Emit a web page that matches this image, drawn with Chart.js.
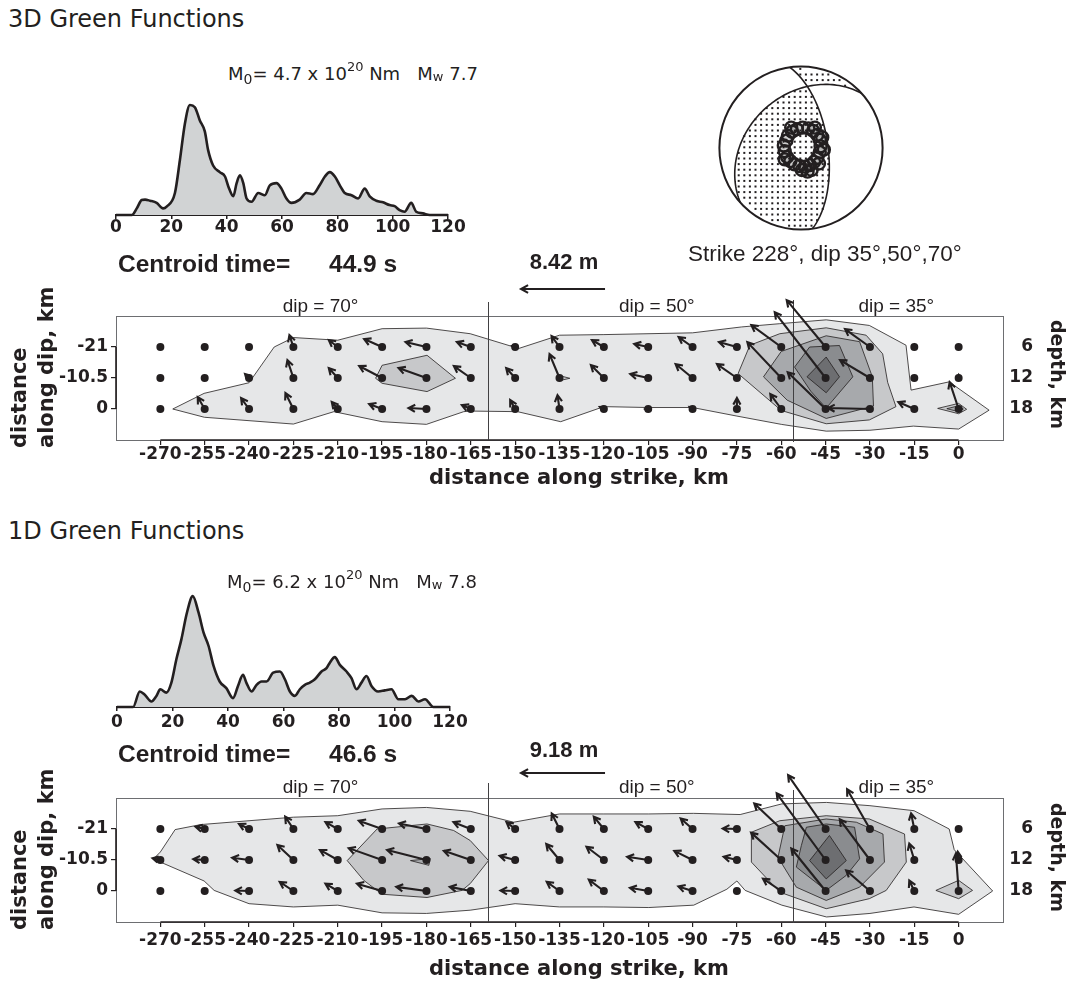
<!DOCTYPE html>
<html>
<head>
<meta charset="utf-8">
<script src="https://cdn.jsdelivr.net/npm/chart.js@4.4.1/dist/chart.umd.min.js"></script>
<style>
  body { margin: 0; background: #fff; width: 1067px; height: 982px; position: relative; overflow: hidden; font-family: 'DejaVu Sans', sans-serif; color: #231f20; }
  canvas { position: absolute; }
  .t { position: absolute; white-space: pre; line-height: 1; }
  .lib { font-family: 'Liberation Sans', Arial, sans-serif; }
  .b { font-weight: bold; }
  .sb { font-size: 14px; position: relative; top: 4px; }
  .sp { font-size: 13px; position: relative; top: -9px; }
  .sw { font-size: 13px; position: relative; top: 1px; }
  .rl { transform-origin: 0 0; transform: rotate(-90deg); }
  .rr { transform-origin: 0 0; transform: rotate(90deg); }
</style>
</head>
<body>
<canvas id="stf3d" width="392" height="161" style="left:86px;top:84px"></canvas>
<canvas id="ball" width="180" height="180" style="left:711px;top:58px"></canvas>
<canvas id="slip3d" width="1011" height="240" style="left:56px;top:250px"></canvas>
<canvas id="stf1d" width="393" height="162" style="left:87px;top:575px"></canvas>
<canvas id="slip1d" width="1011" height="240" style="left:56px;top:732px"></canvas>

<div class="t" style="left:8px;top:6.7px;font-size:24px">3D Green Functions</div>
<div class="t" style="left:228px;top:64.8px;font-size:18px">M<span class="sb">0</span>= 4.7 x 10<span class="sp">20</span> Nm   M<span class="sw">w</span> 7.7</div>
<div class="t lib b" style="left:118px;top:252.3px;font-size:24.5px">Centroid time=</div>
<div class="t lib b" style="left:329px;top:252.3px;font-size:24.5px">44.9 s</div>
<div class="t lib b" style="left:564px;top:251.4px;font-size:22px;transform:translateX(-50%)">8.42 m</div>
<div class="t lib" style="left:688px;top:243px;font-size:22.5px">Strike 228°, dip 35°,50°,70°</div>
<div class="t b rl" style="left:6px;top:448px;font-size:21px;line-height:27px">distance
along dip, km</div>
<div class="t b rr" style="left:1067px;top:320px;font-size:19px">depth, km</div>
<div class="t b" style="left:579px;top:467.2px;font-size:21px;transform:translateX(-50%)">distance along strike, km</div>

<div class="t" style="left:8px;top:518.7px;font-size:24px">1D Green Functions</div>
<div class="t" style="left:227px;top:573.1px;font-size:18px">M<span class="sb">0</span>= 6.2 x 10<span class="sp">20</span> Nm   M<span class="sw">w</span> 7.8</div>
<div class="t lib b" style="left:118px;top:742px;font-size:24.5px">Centroid time=</div>
<div class="t lib b" style="left:329px;top:742px;font-size:24.5px">46.6 s</div>
<div class="t lib b" style="left:564px;top:738.7px;font-size:22px;transform:translateX(-50%)">9.18 m</div>
<div class="t b rl" style="left:6px;top:930px;font-size:21px;line-height:27px">distance
along dip, km</div>
<div class="t b rr" style="left:1067px;top:803px;font-size:19px">depth, km</div>
<div class="t b" style="left:579px;top:958.2px;font-size:21px;transform:translateX(-50%)">distance along strike, km</div>

<script>
// ---- source time functions (normalised moment rate vs time, s) ----
const stfTicks = [0, 20, 40, 60, 80, 100, 120];
const stf3dTime = [0, 5.7, 7.5, 9.3, 10.5, 12.3, 14.7, 17, 18.3, 21.3, 23.1, 24.9, 26.7, 28.5, 30.3, 32.1, 33.3, 35.1, 37.5, 39.4, 40.6, 42.4, 43.6, 44.8, 46, 47.2, 49, 51.4, 53.8, 55.6, 58, 59.8, 61.6, 63.4, 66.4, 68.8, 71.2, 73.6, 75.5, 77.3, 79.1, 80.9, 82.7, 85.1, 87.5, 89.9, 91.7, 94.1, 96.5, 98.9, 100.7, 102.5, 104.3, 106.7, 108.5, 110.9, 113.4, 120];
const stf3dAmp = [0, 0, 0.06, 0.136, 0.14, 0.13, 0.11, 0.06, 0.076, 0.2, 0.5, 0.83, 1.0, 0.98, 0.86, 0.76, 0.59, 0.45, 0.39, 0.35, 0.26, 0.17, 0.29, 0.36, 0.29, 0.15, 0.12, 0.2, 0.18, 0.27, 0.29, 0.24, 0.15, 0.11, 0.14, 0.2, 0.19, 0.27, 0.35, 0.39, 0.35, 0.27, 0.2, 0.18, 0.15, 0.24, 0.17, 0.13, 0.115, 0.09, 0.08, 0.045, 0.03, 0.11, 0.03, 0.015, 0, 0];
const stf1dTime = [0, 5.8, 8.2, 10, 12.4, 14.2, 15.6, 17.8, 19.6, 21.4, 23.2, 25.2, 27.3, 29.4, 31.2, 33, 34.8, 37, 39.4, 41.8, 43.6, 45.4, 46.6, 48.5, 50.3, 52.1, 53.9, 56.3, 58.7, 60.5, 62.3, 64.1, 65.9, 67.7, 69.5, 71.3, 73.7, 75.5, 76.7, 78.5, 80.3, 82.7, 84.5, 86.3, 88.1, 89.9, 91.7, 94.1, 96.5, 98.9, 101.4, 103.8, 106.2, 108.6, 111, 114, 120];
const stf1dAmp = [0, 0, 0.14, 0.11, 0.05, 0.1, 0.16, 0.13, 0.22, 0.43, 0.61, 0.85, 1.0, 0.85, 0.67, 0.55, 0.37, 0.23, 0.17, 0.08, 0.19, 0.29, 0.22, 0.14, 0.2, 0.23, 0.23, 0.31, 0.32, 0.25, 0.14, 0.1, 0.16, 0.2, 0.22, 0.25, 0.32, 0.35, 0.4, 0.45, 0.38, 0.32, 0.26, 0.16, 0.22, 0.28, 0.19, 0.14, 0.15, 0.16, 0.07, 0.07, 0.1, 0.05, 0.07, 0, 0];

// ---- focal mechanism ----
const planeStrike = [228, 352];
const planeDip = [35, 63];
const ringX = [0.24, 0.23, 0.2, 0.15, 0.09, 0.02, -0.05, -0.11, -0.16, -0.18, -0.21, -0.2, -0.17, -0.13, -0.08, -0.02, 0.05, 0.11, 0.16, 0.2, 0.23, 0.26, 0.22, 0.13, 0.01, -0.2, 0.17, 0.28, -0.12, 0.08];
const ringY = [0.02, 0.1, 0.16, 0.21, 0.24, 0.25, 0.23, 0.2, 0.15, 0.09, 0.03, -0.04, -0.11, -0.16, -0.2, -0.22, -0.23, -0.21, -0.17, -0.12, -0.05, 0.13, -0.19, -0.27, -0.27, -0.14, 0.25, -0.02, 0.25, -0.29];

// ---- slip maps ----
const strikeCols = [-270, -255, -240, -225, -210, -195, -180, -165, -150, -135, -120, -105, -90, -75, -60, -45, -30, -15, 0];
const strikeTicks = [-270, -255, -240, -225, -210, -195, -180, -165, -150, -135, -120, -105, -90, -75, -60, -45, -30, -15, 0];
const dipRows = [-21, -10.5, 0];
const dipTicks = [-21, -10.5, 0];
const depthLabels = ['6', '12', '18'];
const dipBoundsKm = [-159.2, -56];
const dipLabelKm = [-215.8, -102.1, -21.1];
const dipLabelText = ['dip = 70°', 'dip = 50°', 'dip = 35°'];
const scaleArrowKm = 28.4;
const scaleArrowEndKm = -119.6;
const maxSlip3d = 8.42;
const maxSlip1d = 9.18;

// slip components (m): along strike (+ = toward 0 km), up-dip (+ = up)
const ss3d = [
  [0, 0, 0, -0.4, -0.9, -1.8, -2.1, -1.4, -0.3, -0.8, -1.2, -1.4, -1.4, -1.8, -3.0, -3.9, -2.5, 0, 0.1],
  [0, 0, -0.4, -0.6, -0.9, -2.3, -2.8, -1.7, -0.9, -1.0, -1.3, -1.8, -1.7, -2.0, -3.4, -5.1, -3.0, 0, 0],
  [0, -0.7, -0.8, -0.8, -0.6, -1.3, -1.8, -0.9, -0.5, -0.2, -0.4, -0.3, -0.3, 0, -1.1, -3.8, -4.2, -1.6, -0.9]
];
const ds3d = [
  [0, 0, 0, 1.2, 0.7, 0.8, 0.5, 0.5, 0.1, 1.1, 0.7, 0.3, 1.0, 0.5, 2.2, 4.7, 1.8, 0.2, 0],
  [0, 0, 0.4, 1.8, 1.0, 1.2, 1.0, 1.2, 1.0, 2.4, 1.3, 0.4, 1.4, 1.4, 3.6, 6.6, 1.8, 0, 0.3],
  [0, 1.2, 1.1, 1.6, 0.7, 0.5, 0.1, 0.4, 0.9, 1.4, 0.2, 0, 0.2, 1.1, 1.5, 3.7, 0.1, 0.7, 2.7]
];
const ss1d = [
  [-0.1, -1.0, -1.1, -0.9, -1.35, -2.55, -3.0, -1.9, -0.95, -0.85, -1.1, -1.4, -1.3, -1.55, -2.95, -4.1, -2.5, -0.35, 0],
  [-0.85, -1.25, -1.85, -1.75, -1.95, -3.65, -4.3, -2.95, -1.7, -1.45, -1.9, -2.3, -2.0, -1.45, -3.3, -5.35, -3.3, -0.55, -0.1],
  [0, 0, -1.5, -1.5, -1.35, -2.75, -3.3, -2.3, -1.6, -1.4, -1.65, -2.0, -1.55, 0, -2.0, -3.75, -2.6, -0.55, -0.3]
];
const ds1d = [
  [0, 0.25, 0.55, 1.35, 0.75, 0.9, 0.6, 0.75, 0.75, 1.7, 1.35, 0.75, 1.15, 0.05, 2.8, 5.9, 4.35, 1.7, 0.1],
  [0.2, 0.1, 0.25, 1.65, 1.1, 1.3, 1.1, 1.0, 0.45, 1.75, 1.45, 0.35, 1.0, 0.35, 3.0, 7.3, 4.45, 1.8, 0.9],
  [0, 0, 0.05, 1.0, 0.8, 0.8, 0.45, 0.45, 0.05, 1.0, 1.25, 0.35, 0.5, 0, 1.35, 4.65, 2.25, 1.15, 4.1]
];

// slip contours, [km along strike, km along dip], lightest level first
const contourShades = ['#e6e7e8', '#c7c8ca', '#a7a9ac', '#8a8c8f', '#6d6e71'];
const c3dL1 = [[[-265.8, 0], [-255.2, -5.3], [-240, -8.9], [-231.5, -21], [-225, -24.2], [-210, -23.3], [-195, -27.2], [-180, -27.4], [-165.2, -25.5], [-148.8, -20.5], [-135, -25], [-120, -25.2], [-90, -25.8], [-73.4, -27.8], [-60.5, -28.9], [-44.8, -30.2], [-30.2, -28.3], [-17.8, -21.6], [-16.1, -6.4], [-3.2, -9.2], [10.3, 0.4], [0, 6.8], [-15.3, 5.8], [-30, 7.2], [-44.8, 7.5], [-60, 5.2], [-75, 2.4], [-90, -0.5], [-105, -0.5], [-120, -0.8], [-134.6, 4.3], [-149.2, 0.9], [-165.1, 0.7], [-167.4, 0.9], [-180, 5.2], [-195, 4.3], [-211.3, 0.9], [-225, 5.1], [-255.1, 2.8]]];
const c3dL2 = [
  [[-197.2, -10.4], [-195, -14.8], [-179.8, -18.2], [-170.2, -10.4], [-179.8, -5.9], [-195, -8.7]],
  [[-135, -11.3], [-131.5, -10.4], [-135, -9.6]],
  [[-74.6, -12], [-70.6, -21.6], [-60.5, -25.5], [-44.8, -27.5], [-31.3, -25], [-25.7, -18.7], [-24, -9], [-21.2, -0.8], [-30.2, 3.7], [-44.8, 5], [-60, 0.5]],
  [[-7.1, -0.2], [0, -1.9], [2.7, 0.1], [0, 1.6]]
];
const c3dL3 = [
  [[-66, -10.9], [-60, -19.5], [-44.8, -24.8], [-33.5, -22.8], [-29.2, -10.9], [-28.8, -1], [-44.8, 3.2], [-58, -3]],
  [[-4, -0.1], [0, -1.1], [1.6, 0], [0, 0.9]]
];
const c3dL4 = [[[-55.5, -14.2], [-50.4, -21], [-40.3, -21.5], [-35.8, -10.9], [-44.8, -0.3], [-50, -6]]];
const c3dL5 = [[[-44.8, -17.6], [-40.3, -10.9], [-44.8, -5.5], [-51.3, -10.9]]];

const c1dL1 = [[[-272.3, -10.9], [-270, -13.2], [-265, -20.8], [-256.3, -22.5], [-240, -23.8], [-225, -25], [-210, -25.5], [-195, -27.8], [-180, -28.3], [-165.2, -27], [-150.5, -23.3], [-135, -26.1], [-120, -26.1], [-104.8, -26.1], [-89.7, -26.3], [-73.9, -25.9], [-59.8, -29.5], [-44.7, -30], [-30, -28.9], [-15.1, -27.2], [-3.2, -21], [-1.5, -14], [11.5, 0], [0, 7.9], [-15.1, 5.4], [-30, 7.6], [-44.7, 8.8], [-59.8, 4.8], [-72.2, -0.2], [-75, -3.4], [-78.4, -0.6], [-89.6, 4.8], [-104.8, 5.6], [-120, 5.4], [-135, 5.4], [-150, 4.3], [-165.2, 6.5], [-180, 7.6], [-195, 7.4], [-210, 4.8], [-225, 5.4], [-240, 4.3], [-251.8, -0.2], [-255.2, -3.4], [-270, -9.8]]];
const c1dL2 = [
  [[-206.8, -10.3], [-196.7, -21], [-179.8, -22.7], [-170.8, -20.5], [-165.2, -17.1], [-159, -10.3], [-165.2, -2.5], [-168, -0.2], [-179.8, 2.2], [-195, 1.1], [-201.2, -3.6]],
  [[-70.1, -9.8], [-70.1, -19.9], [-60.5, -23.8], [-44.8, -25.5], [-30.2, -24.4], [-18.3, -19.3], [-17.7, -9.8], [-24.5, -0.2], [-30.2, 2.6], [-44.8, 6], [-60.5, 0.4]],
  [[-7.7, -0.2], [0, -3.6], [4.7, -0.2], [0, 2.6]]
];
const c1dL3 = [
  [[-185.4, -10.3], [-178.7, -11], [-179.2, -8.7]],
  [[-61.1, -11.4], [-58.8, -22.1], [-44.8, -24.4], [-34.6, -23.3], [-25.6, -19.3], [-25.1, -9.8], [-33.5, -1.3], [-44.8, 3.2], [-54.9, -1.3]]
];
const c1dL4 = [[[-53.2, -15.4], [-51.5, -21.6], [-44.8, -22.7], [-35.2, -21.6], [-33.5, -10.9], [-38, -5.3], [-44.8, -0.2], [-54.9, -8.1]]];
const c1dL5 = [[[-43.7, -18.8], [-38, -10.3], [-44.8, -4.1], [-50.4, -10.3]]];

const INK = '#231f20';
Chart.defaults.font.family = "'DejaVu Sans', sans-serif";
Chart.defaults.color = INK;
Chart.defaults.animation = false;

const fixedTicks = list => s => { s.ticks = list.map(v => ({ value: v })); };
const noPlugins = { legend: { display: false }, tooltip: { enabled: false } };

// Source time function charts
function stfChart(id, times, amps, pad) {
  new Chart(document.getElementById(id), {
    type: 'line',
    data: {
      datasets: [{
        data: times.map((t, i) => ({ x: t, y: amps[i] })),
        borderColor: INK, borderWidth: 2.6, backgroundColor: '#d1d3d4', fill: 'origin',
        pointRadius: 0, cubicInterpolationMode: 'monotone', clip: false
      }]
    },
    options: {
      responsive: false, devicePixelRatio: 1, events: [],
      layout: { padding: { left: 30, right: 30, top: 10, bottom: 0 } },
      plugins: noPlugins,
      scales: {
        x: {
          type: 'linear', min: 0, max: 120,
          afterBuildTicks: fixedTicks(stfTicks),
          afterFit: s => { s.height = 30; },
          grid: { drawOnChartArea: false, drawTicks: true, tickLength: 4, color: INK, lineWidth: 1.5 },
          border: { display: true, color: INK, width: 2 },
          ticks: { padding: pad, autoSkip: false, maxRotation: 0, color: INK, font: { size: 17, weight: 'bold', lineHeight: 1 }, callback: v => String(v) }
        },
        y: { display: false, min: 0, max: 1.1 }
      }
    }
  });
}

// Focal mechanism (lower hemisphere, equal area)
const rad = d => d * Math.PI / 180;
const dot3 = (a, b) => a[0] * b[0] + a[1] * b[1] + a[2] * b[2];
function poleOf(strike, dip) {
  const tr = rad(strike - 90), pl = rad(90 - dip);
  return [Math.cos(pl) * Math.sin(tr), Math.cos(pl) * Math.cos(tr), -Math.sin(pl)];
}
function project(v) {
  const pl = Math.asin(Math.min(1, -v[2])), tr = Math.atan2(v[0], v[1]);
  const r = Math.SQRT2 * Math.sin((Math.PI / 2 - pl) / 2);
  return [r * Math.sin(tr), r * Math.cos(tr)];
}
function unproject(x, y) {
  const r = Math.hypot(x, y);
  const pl = Math.PI / 2 - 2 * Math.asin(Math.min(1, r / Math.SQRT2)), tr = Math.atan2(x, y);
  return [Math.cos(pl) * Math.sin(tr), Math.cos(pl) * Math.cos(tr), -Math.sin(pl)];
}

const ballPlugin = {
  id: 'ball',
  beforeDatasetsDraw(chart) {
    const { ctx, scales: { x, y } } = chart;
    const cx = x.getPixelForValue(0), cy = y.getPixelForValue(0);
    const R = x.getPixelForValue(1) - cx;
    const n1 = poleOf(planeStrike[0], planeDip[0]), n2 = poleOf(planeStrike[1], planeDip[1]);
    const ref = n1[2] * n2[2];
    ctx.save();
    ctx.fillStyle = INK;
    for (let py = cy - R + 2.5; py < cy + R; py += 5.6) {
      for (let px = cx - R + 2.5; px < cx + R; px += 5.6) {
        const ex = x.getValueForPixel(px), ny = y.getValueForPixel(py);
        if (Math.hypot(ex, ny) > 0.97) continue;
        const v = unproject(ex, ny);
        if (dot3(n1, v) * dot3(n2, v) * ref > 0) ctx.fillRect(px - 1, py - 1, 2, 2);
      }
    }
    ctx.strokeStyle = INK;
    ctx.lineWidth = 1.6;
    planeStrike.forEach((s, i) => {
      const d = planeDip[i];
      const sv = [Math.sin(rad(s)), Math.cos(rad(s)), 0];
      const dv = [Math.cos(rad(d)) * Math.sin(rad(s + 90)), Math.cos(rad(d)) * Math.cos(rad(s + 90)), -Math.sin(rad(d))];
      ctx.beginPath();
      for (let a = 0; a <= 180; a += 2) {
        const c = Math.cos(rad(a)), sn = Math.sin(rad(a));
        const p = project([c * sv[0] + sn * dv[0], c * sv[1] + sn * dv[1], c * sv[2] + sn * dv[2]]);
        const X = x.getPixelForValue(p[0]), Y = y.getPixelForValue(p[1]);
        if (a === 0) ctx.moveTo(X, Y); else ctx.lineTo(X, Y);
      }
      ctx.stroke();
    });
    ctx.lineWidth = 2;
    ctx.beginPath();
    ctx.arc(cx, cy, R, 0, Math.PI * 2);
    ctx.stroke();
    ctx.restore();
  }
};

new Chart(document.getElementById('ball'), {
  type: 'scatter',
  data: { datasets: [{ data: ringX.map((v, i) => ({ x: v, y: ringY[i] })), pointRadius: 6, borderWidth: 2.4, borderColor: INK, backgroundColor: 'rgba(35,31,32,0.12)' }] },
  options: {
    responsive: false, devicePixelRatio: 1, events: [],
    layout: { padding: 6 },
    plugins: noPlugins,
    scales: { x: { display: false, min: -1, max: 1 }, y: { display: false, min: -1, max: 1 } }
  },
  plugins: [ballPlugin]
});

// Slip maps
function drawArrow(ctx, x0, y0, x1, y1, head) {
  const len = Math.hypot(x1 - x0, y1 - y0);
  if (len < 1.5) return;
  const a = Math.atan2(y1 - y0, x1 - x0), h = Math.min(head, len * 0.8);
  ctx.beginPath();
  ctx.moveTo(x0, y0);
  ctx.lineTo(x1, y1);
  ctx.moveTo(x1 - h * Math.cos(a - 0.5), y1 - h * Math.sin(a - 0.5));
  ctx.lineTo(x1, y1);
  ctx.lineTo(x1 - h * Math.cos(a + 0.5), y1 - h * Math.sin(a + 0.5));
  ctx.stroke();
}

function slipPlugin(cfg) {
  const kmPerM = scaleArrowKm / cfg.maxSlip;
  return {
    id: 'slipmarks',
    beforeDatasetsDraw(chart) {
      const { ctx, chartArea: a } = chart;
      ctx.save();
      ctx.strokeStyle = '#6d6e71';
      ctx.lineWidth = 1;
      ctx.strokeRect(a.left + 0.5, a.top + 0.5, a.right - a.left, a.bottom - a.top);
      ctx.restore();
    },
    afterDatasetsDraw(chart) {
      const { ctx, chartArea: a, scales: { x, y } } = chart;
      ctx.save();
      ctx.strokeStyle = INK;
      ctx.fillStyle = INK;
      // axis spines over the tick range
      ctx.lineWidth = 1.6;
      ctx.beginPath();
      ctx.moveTo(x.getPixelForValue(strikeTicks[0]), a.bottom);
      ctx.lineTo(x.getPixelForValue(strikeTicks[strikeTicks.length - 1]), a.bottom);
      ctx.moveTo(a.left, y.getPixelForValue(dipTicks[0]));
      ctx.lineTo(a.left, y.getPixelForValue(dipTicks[dipTicks.length - 1]));
      ctx.stroke();
      // dip segment boundaries and labels
      ctx.lineWidth = 1;
      ctx.strokeStyle = '#414042';
      dipBoundsKm.forEach((km, i) => {
        const px = Math.round(x.getPixelForValue(km)) + 0.5;
        ctx.beginPath();
        ctx.moveTo(px, a.top - cfg.boundTop[i]);
        ctx.lineTo(px, a.bottom + cfg.boundBottom[i]);
        ctx.stroke();
      });
      ctx.font = "19px 'Liberation Sans', Arial, sans-serif";
      ctx.textAlign = 'center';
      ctx.textBaseline = 'alphabetic';
      dipLabelKm.forEach((km, i) => ctx.fillText(dipLabelText[i], x.getPixelForValue(km), a.top - cfg.labelLift));
      // slip vectors
      ctx.strokeStyle = INK;
      ctx.lineWidth = 2.1;
      ctx.lineJoin = 'miter';
      dipRows.forEach((row, r) => strikeCols.forEach((col, c) => {
        const x0 = x.getPixelForValue(col), y0 = y.getPixelForValue(row);
        const x1 = x.getPixelForValue(col + cfg.ss[r][c] * kmPerM);
        const y1 = y.getPixelForValue(row - cfg.ds[r][c] * kmPerM);
        drawArrow(ctx, x0, y0, x1, y1, 7.5);
      }));
      // scale arrow
      const ay = a.top - cfg.arrowLift;
      drawArrow(ctx, x.getPixelForValue(scaleArrowEndKm), ay, x.getPixelForValue(scaleArrowEndKm - scaleArrowKm), ay, 8);
      ctx.restore();
    }
  };
}

function slipChart(id, cfg) {
  const datasets = [];
  cfg.contours.forEach((level, li) => level.forEach(poly => datasets.push({
    type: 'line',
    data: poly.concat([poly[0]]).map(p => ({ x: p[0], y: p[1] })),
    fill: 'shape', backgroundColor: contourShades[li], borderColor: INK, borderWidth: 0.8,
    pointRadius: 0, tension: 0, order: 10 - li
  })));
  const gridPts = [];
  dipRows.forEach(row => strikeCols.forEach(col => gridPts.push({ x: col, y: row })));
  datasets.push({ type: 'scatter', data: gridPts, pointRadius: 4, backgroundColor: INK, borderWidth: 0, order: 0 });
  const tickFont = { size: 17, weight: 'bold', lineHeight: 1 };
  new Chart(document.getElementById(id), {
    type: 'scatter',
    data: { datasets },
    options: {
      responsive: false, devicePixelRatio: 1, events: [],
      layout: { padding: { left: 0, right: 34, top: 66, bottom: 0 } },
      plugins: noPlugins,
      scales: {
        x: {
          type: 'linear', min: -285, max: 15,
          afterBuildTicks: fixedTicks(strikeTicks),
          afterFit: s => { s.height = 50; },
          grid: { drawOnChartArea: false, drawTicks: true, tickLength: 5, color: INK, lineWidth: 1.2 },
          border: { display: false },
          ticks: { padding: cfg.xPad, autoSkip: false, maxRotation: 0, color: INK, font: tickFont, callback: v => String(v) }
        },
        y: {
          type: 'linear', position: 'left', reverse: true, min: -31.5, max: 10.5,
          afterBuildTicks: fixedTicks(dipTicks),
          afterFit: s => { s.width = 60; },
          grid: { drawOnChartArea: false, drawTicks: true, tickLength: 5, color: INK, lineWidth: 1.2 },
          border: { display: false },
          ticks: { padding: 3, color: INK, font: tickFont, callback: v => String(v) }
        },
        y2: {
          type: 'linear', position: 'right', reverse: true, min: -31.5, max: 10.5,
          afterBuildTicks: fixedTicks(dipTicks),
          afterFit: s => { s.width = 30; },
          grid: { display: false, drawTicks: false },
          border: { display: false },
          ticks: { padding: 8, crossAlign: 'far', color: INK, font: tickFont, callback: v => depthLabels[dipTicks.indexOf(v)] }
        }
      }
    },
    plugins: [slipPlugin(cfg)]
  });
}

stfChart('stf3d', stf3dTime, stf3dAmp, 0);
stfChart('stf1d', stf1dTime, stf1dAmp, 3);

slipChart('slip3d', {
  ss: ss3d, ds: ds3d, maxSlip: maxSlip3d,
  contours: [c3dL1, c3dL2, c3dL3, c3dL4, c3dL5],
  xPad: 1, boundTop: [14, 16], boundBottom: [0, 2], labelLift: 4.3, arrowLift: 27
});
slipChart('slip1d', {
  ss: ss1d, ds: ds1d, maxSlip: maxSlip1d,
  contours: [c1dL1, c1dL2, c1dL3, c1dL4, c1dL5],
  xPad: 5, boundTop: [15, 8], boundBottom: [0, 1], labelLift: 4.7, arrowLift: 25
});
</script>
</body>
</html>
